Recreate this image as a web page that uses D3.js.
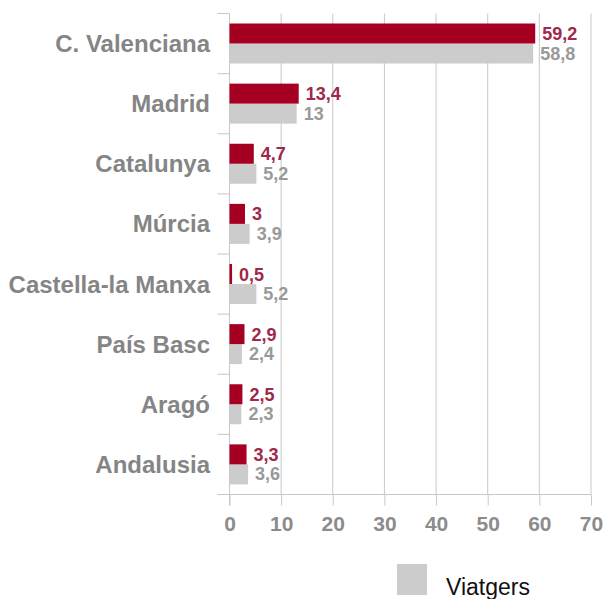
<!DOCTYPE html>
<html>
<head>
<meta charset="utf-8">
<script src="https://cdn.jsdelivr.net/npm/d3@7"></script>
<style>
  body { margin: 0; background: #fff; }
  text { font-family: "Liberation Sans", Arial, sans-serif; }
</style>
</head>
<body>
<script>
var regions = ["C. Valenciana", "Madrid", "Catalunya", "Múrcia", "Castella-la Manxa", "País Basc", "Aragó", "Andalusia"];
var redValues = [59.2, 13.4, 4.7, 3, 0.5, 2.9, 2.5, 3.3];
var viatgers = [58.8, 13, 5.2, 3.9, 5.2, 2.4, 2.3, 3.6];
var xTicks = [0, 10, 20, 30, 40, 50, 60, 70];

var width = 603, height = 599;
var margin = {left: 229.5, right: 12, top: 13.5, bottom: 104.5};

var svg = d3.select("body").append("svg").attr("width", width).attr("height", height);

var x = d3.scaleLinear().domain([0, 70]).range([margin.left, width - margin.right]);
var y = d3.scaleBand().domain(regions).range([margin.top, height - margin.bottom]);

var fmt = function(v){ return String(v).replace(".", ","); };

// grid lines
svg.append("g").selectAll("line")
  .data(xTicks.slice(1))
  .enter().append("line")
  .attr("x1", function(d){ return x(d); })
  .attr("x2", function(d){ return x(d); })
  .attr("y1", margin.top)
  .attr("y2", height - margin.bottom)
  .attr("stroke", "#c8c8c8")
  .attr("stroke-width", 1);

var xAxis = d3.axisBottom(x).tickValues(xTicks).tickSize(11).tickPadding(11).tickFormat(d3.format("d"));
var gx = svg.append("g").attr("transform", "translate(0," + (height - margin.bottom) + ")").call(xAxis);
gx.select(".domain").attr("stroke", "#c8c8c8").attr("d", "M" + (margin.left - 12) + ",0H" + x(70));
gx.selectAll(".tick line").attr("stroke", "#c8c8c8");
gx.selectAll(".tick text").attr("fill", "#8c8c8c").style("font-size", "21px").style("font-weight", "bold")
  .style("font-family", "'Liberation Sans', Arial, sans-serif");

// category boundary ticks on y axis
var bounds = regions.map(function(r){ return y(r); });
svg.append("g").selectAll("line")
  .data(bounds)
  .enter().append("line")
  .attr("x1", margin.left - 12).attr("x2", margin.left)
  .attr("y1", function(d){ return d; }).attr("y2", function(d){ return d; })
  .attr("stroke", "#c8c8c8");
svg.append("line")
  .attr("x1", margin.left).attr("x2", margin.left)
  .attr("y1", margin.top).attr("y2", height - margin.bottom + 11)
  .attr("stroke", "#c8c8c8");

var barH = 20, off = 10;

svg.append("g").selectAll("rect")
  .data(viatgers)
  .enter().append("rect")
  .attr("x", x(0))
  .attr("y", function(d, i){ return y(regions[i]) + off + barH; })
  .attr("width", function(d){ return x(d) - x(0); })
  .attr("height", barH)
  .attr("fill", "#cccccc");

svg.append("g").selectAll("rect")
  .data(redValues)
  .enter().append("rect")
  .attr("x", x(0))
  .attr("y", function(d, i){ return y(regions[i]) + off; })
  .attr("width", function(d){ return x(d) - x(0); })
  .attr("height", barH)
  .attr("fill", "#a50021");

svg.append("g").selectAll("text")
  .data(redValues)
  .enter().append("text")
  .attr("x", function(d){ return x(d) + 7; })
  .attr("y", function(d, i){ return y(regions[i]) + off + barH / 2 + 6.5; })
  .attr("fill", "#a0284a")
  .style("font-size", "18px").style("font-weight", "bold")
  .text(fmt);

svg.append("g").selectAll("text")
  .data(viatgers)
  .enter().append("text")
  .attr("x", function(d){ return x(d) + 7; })
  .attr("y", function(d, i){ return y(regions[i]) + off + barH * 1.5 + 6; })
  .attr("fill", "#999999")
  .style("font-size", "18px").style("font-weight", "bold")
  .text(fmt);

svg.append("g").selectAll("text")
  .data(regions)
  .enter().append("text")
  .attr("x", 210)
  .attr("y", function(d){ return y(d) + y.bandwidth() / 2 + 8.5; })
  .attr("text-anchor", "end")
  .attr("fill", "#858585")
  .style("font-size", "24px").style("font-weight", "bold")
  .text(function(d){ return d; });

// legend
svg.append("rect").attr("x", 397).attr("y", 564).attr("width", 30).attr("height", 31).attr("fill", "#cccccc");
svg.append("text").attr("x", 446).attr("y", 595).attr("fill", "#111").style("font-size", "23px").text("Viatgers");
</script>
</body>
</html>
